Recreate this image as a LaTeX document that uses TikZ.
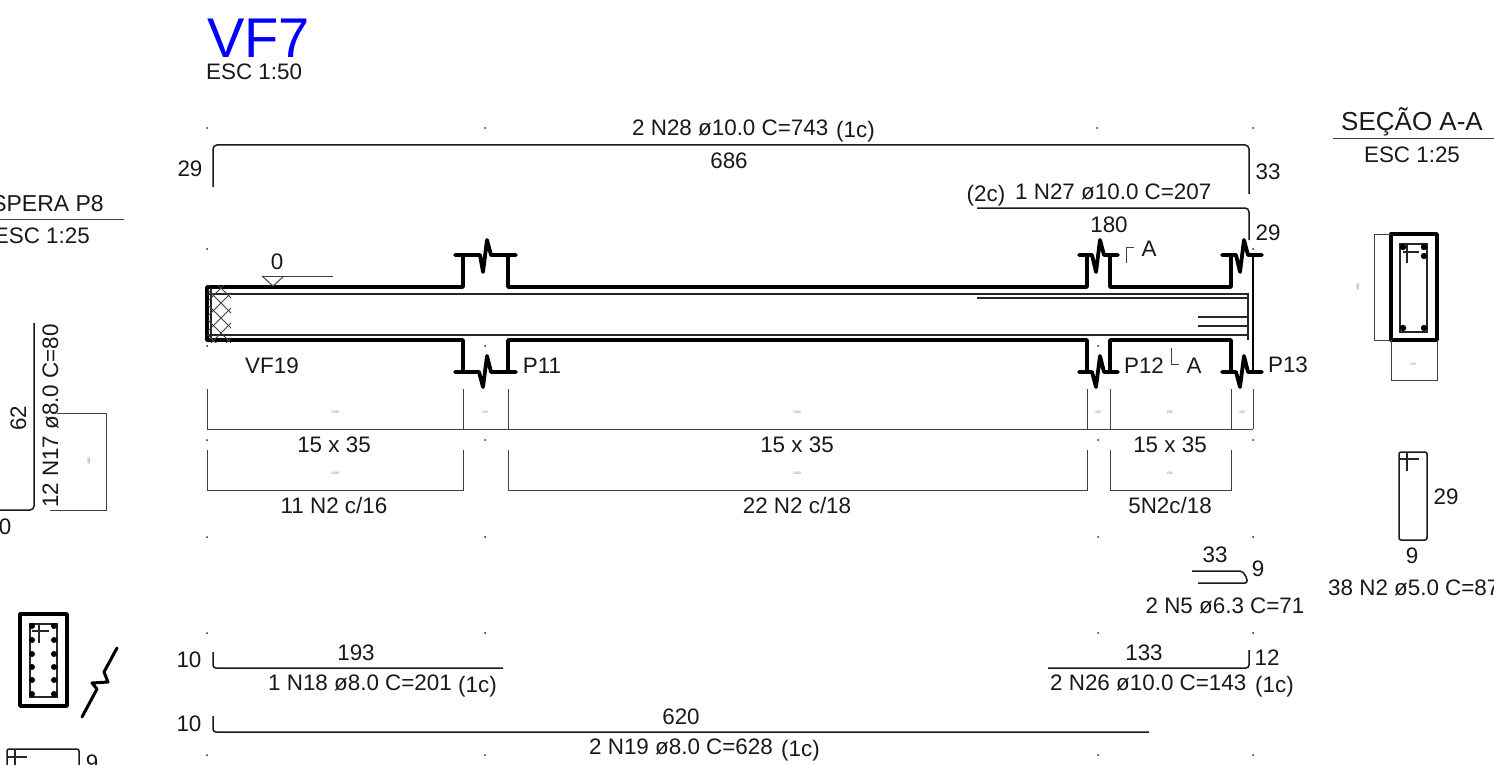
\documentclass[tikz,border=0pt]{standalone}
\usepackage{fontspec}
\setmainfont{Liberation Sans}
\tikzset{
  txt/.style={inner sep=0pt,anchor=base,text=black!90,font=\fontsize{22.4}{24}\selectfont},
  txtl/.style={txt,anchor=base west},
  txtr/.style={txt,anchor=base east},
  wall/.style={line width=3.8pt,black,line cap=round,line join=round},
  thinl/.style={line width=1.3pt,black!85},
  dim/.style={line width=1pt,black!75},
  bar/.style={line width=1.5pt,black!90,rounded corners=4pt},
  tiny/.style={inner sep=0pt,text=black!50,font=\fontsize{3.5}{4}\selectfont},
  dotm/.style={fill=black!85,draw=none}
}
\begin{document}
\begin{tikzpicture}[x=1pt,y=-1pt]
\clip (0,0) rectangle (1494,765);
\fill[white] (0,0) rectangle (1494,765);

% small reference dots
\foreach \p in {(207,128),(485,128),(1097,128),(1253,128),(207,249),(1253,249),(207,346),(485,346),(1098,346),
  (207,440),(485,440),(1098,440),(1253,440),(207,537),(485,537),(1098,537),(1253,537),
  (207,633),(485,633),(1098,633),(1253,633),(207,755),(485,755),(1098,755),(1253,755)}
  \fill[dotm] \p circle (1);

% titles
\node[txtl,text=blue,font=\fontsize{56}{60}\selectfont] (title) at (207,58) {VF7};
\node[txtl] (esc) at (206,79.5) {ESC 1:50};
\node[txt,font=\fontsize{26}{28}\selectfont] (secao) at (1412,131) {SEÇÃO A-A};
\coordinate (su1) at (1333,139); \coordinate (su2) at (1494,139);
\draw[dim] (su1) -- (su2);
\node[txt] (esc2) at (1412,162) {ESC 1:25};
\node[txtr,font=\fontsize{23}{26}\selectfont] (spera) at (104,211) {SPERA P8};
\coordinate (sp1) at (0,219); \coordinate (sp2) at (124,219);
\draw[dim] (sp1) -- (sp2);
\node[txtr] (esc3) at (90,243) {ESC 1:25};

% top bars
\draw[bar] (213,187) -- (213,145) -- (1249,145) -- (1249,194);
\draw[bar] (977,208) -- (1249,208) -- (1249,240);
\node[txtl] (n28) at (632,136) {2 N28 ø10.0 C=743};
\node[txtl] (n28c) at (836,138) {(1c)};
\node[txt] (l686) at (729,168) {686};
\node[txt] (l29a) at (190,176) {29};
\node[txt] (l33a) at (1268,179) {33};
\node[txt] (c2) at (986,201) {(2c)};
\node[txtl] (n27) at (1015,199) {1 N27 ø10.0 C=207};
\node[txt] (l180) at (1109,232) {180};
\node[txt] (l29b) at (1268,240) {29};

% beam walls
\draw[wall] (207,340) -- (207,287) -- (463,287) -- (463,255) -- (455,255)
  (463,255) -- (480,255) -- (483,272) -- (487,240) -- (491,255) -- (516,255)
  (508,255) -- (508,287) -- (1087,287) -- (1087,255) -- (1079,255)
  (1087,255) -- (1092,255) -- (1096,272) -- (1100,240) -- (1104,255) -- (1118,255)
  (1110,255) -- (1110,287) -- (1231,287) -- (1231,255) -- (1222,255)
  (1231,255) -- (1236,255) -- (1240,272) -- (1244,240) -- (1248,255) -- (1262,255);
\draw[wall] (207,340) -- (463,340) -- (463,372) -- (455,372)
  (463,372) -- (479,372) -- (483,387) -- (487,356) -- (491,372) -- (516,372)
  (508,372) -- (508,340) -- (1087,340) -- (1087,372) -- (1079,372)
  (1087,372) -- (1092,372) -- (1096,387) -- (1100,356) -- (1104,372) -- (1118,372)
  (1110,372) -- (1110,340) -- (1231,340) -- (1231,372) -- (1222,372)
  (1231,372) -- (1236,372) -- (1240,387) -- (1244,356) -- (1248,372) -- (1262,372);
\draw[line width=2.8pt,black] (1253,255) -- (1253,372);

% beam inner lines
\draw[thinl] (207,294) -- (1248,294) -- (1248,340);
\draw[thinl] (977,298) -- (1248,298);
\draw[thinl,line width=1.7pt] (207,335) -- (1248,335);
\draw[thinl] (1198,317) -- (1248,317) (1198,326) -- (1248,326);
\draw[thinl,line width=1.8pt] (211,288) -- (211,340);
\begin{scope}
  \clip (208,285) rectangle (231,342);
  \foreach \k in {22,37,...,142} \draw[dim] (200,200+\k) -- (240,240+\k);
  \foreach \k in {464,479,...,614} \draw[dim] (200,\k-200) -- (240,\k-240);
\end{scope}

% level mark
\draw[dim] (262,276) -- (273,286) -- (284,276);
\draw[dim] (262,276) -- (333,276);
\node[txt] (l0) at (277,269) {0};

% labels round the beam
\node[txt] (vf19) at (272,373) {VF19};
\node[txt] (p11) at (542,373) {P11};
\node[txt] (p12) at (1144,373) {P12};
\node[txt] (pa) at (1194,373) {A};
\node[txt] (p13) at (1288,372) {P13};
\node[txt] (ua) at (1149,256) {A};
\draw[dim] (1126,263) -- (1126,247) -- (1134,247);
\draw[dim] (1171,348) -- (1171,364) -- (1179,364);

% dimension lines
\draw[dim] (207,429) -- (1253,429);
\foreach \x in {207,463,508,1087,1110,1231,1253} \draw[dim] (\x,389) -- (\x,429);
\draw[dim] (207,450) -- (207,490) -- (463,490) -- (463,450);
\draw[dim] (508,450) -- (508,490) -- (1087,490) -- (1087,450);
\draw[dim] (1110,450) -- (1110,490) -- (1231,490) -- (1231,450);
\node[tiny] (d1) at (335,412) {1500};
\node[tiny] (d2) at (485,412) {150};
\node[tiny] (d3) at (797,412) {1500};
\node[tiny] (d4) at (1098,412) {150};
\node[tiny] (d5) at (1170,412) {600};
\node[tiny] (d6) at (1242,412) {150};
\node[tiny] (e1) at (335,473) {1500};
\node[tiny] (e2) at (797,473) {1500};
\node[tiny] (e3) at (1170,473) {600};
\node[txt] (s1) at (334,452) {15 x 35};
\node[txt] (s2) at (797,452) {15 x 35};
\node[txt] (s3) at (1170,452) {15 x 35};
\node[txt] (c1) at (334,513) {11 N2 c/16};
\node[txt] (c2b) at (797,513) {22 N2 c/18};
\node[txt] (c3) at (1170,513) {5N2c/18};

% N5
\draw[bar,rounded corners=2pt] (1192,571) -- (1242,571) -- (1247,578) -- (1247,583) -- (1198,583);
\node[txt] (l33b) at (1215,562) {33};
\node[txt] (l9a) at (1258,576) {9};
\node[txt] (n5) at (1225,613) {2 N5 ø6.3 C=71};

% stirrup N2
\draw[bar,rounded corners=2pt] (1399,452) rectangle (1427,540);
\draw[thinl] (1399,459) -- (1419,459) (1407,452) -- (1407,471);
\node[txt] (l29c) at (1446,504) {29};
\node[txt] (l9b) at (1412,563) {9};
\node[txtl] (n2) at (1328,595) {38 N2 ø5.0 C=87};

% section A-A
\draw[line width=3.4pt,line join=round] (1391,234) rectangle (1437,340);
\draw[thinl,line width=1.6pt] (1400,244) rectangle (1427,332);
\foreach \p in {(1403,247),(1424,247),(1424,256),(1403,328),(1424,328)} \fill \p circle (3.2);
\draw[thinl] (1403,252) -- (1419,252) (1407,244) -- (1407,263);
\draw[dim] (1391,234) -- (1374,234) -- (1374,340) -- (1391,340);
\draw[dim] (1391,340) -- (1391,380) -- (1437,380) -- (1437,340);
\node[tiny,rotate=90] (a1) at (1358,287) {3500};
\node[tiny] (a2) at (1413,364) {150};

% left: N17
\draw[bar] (0,510) -- (34,510) -- (34,323);
\draw[dim] (50,510) -- (106,510) -- (106,413) -- (57,413);
\node[tiny,rotate=90] (b1) at (89,461) {3000};
\node[txt,rotate=90,anchor=base] (n17) at (58,416) {12 N17 ø8.0 C=80};
\node[txt,rotate=90,anchor=base] (l62) at (26,418) {62};
\node[txt] (l0b) at (5,534) {0};

% left section
\draw[line width=3.4pt,line join=round] (20,614) rectangle (67,706);
\draw[thinl,line width=1.6pt] (30,624) rectangle (57,697);
\foreach \y in {626,640,654,667,680,694} {\fill (32,\y) circle (3); \fill (54,\y) circle (3);}
\draw[thinl] (32,631) -- (49,631) (39,624) -- (39,643);
\draw[line width=3pt,line cap=round,line join=round] (117,648) -- (104,672) -- (108,682) -- (92,683) -- (97,689) -- (82,717);
\draw[bar,rounded corners=2pt] (7,770) -- (7,749) -- (79,749) -- (79,770);
\draw[thinl] (7,757) -- (27,757) (15,749) -- (15,770);
\node[txt] (l9c) at (92,770) {9};

% bottom bars
\draw[bar,rounded corners=3pt] (213,652) -- (213,668) -- (503,668);
\node[txt] (l193) at (356,660) {193};
\node[txt] (l10a) at (189,667) {10};
\node[txtl] (n18) at (268,690) {1 N18 ø8.0 C=201};
\node[txtl] (n18c) at (458,692) {(1c)};
\draw[bar,rounded corners=3pt] (1048,668) -- (1249,668) -- (1249,650);
\node[txt] (l133) at (1144,660) {133};
\node[txt] (l12) at (1267,665) {12};
\node[txtl] (n26) at (1050,690) {2 N26 ø10.0 C=143};
\node[txtl] (n26c) at (1255,692) {(1c)};
\draw[bar,rounded corners=3pt] (213,716) -- (213,732) -- (1149,732);
\node[txt] (l620) at (681,724) {620};
\node[txt] (l10b) at (189,731) {10};
\node[txtl] (n19) at (589,754) {2 N19 ø8.0 C=628};
\node[txtl] (n19c) at (781,756) {(1c)};
\end{tikzpicture}
\end{document}
